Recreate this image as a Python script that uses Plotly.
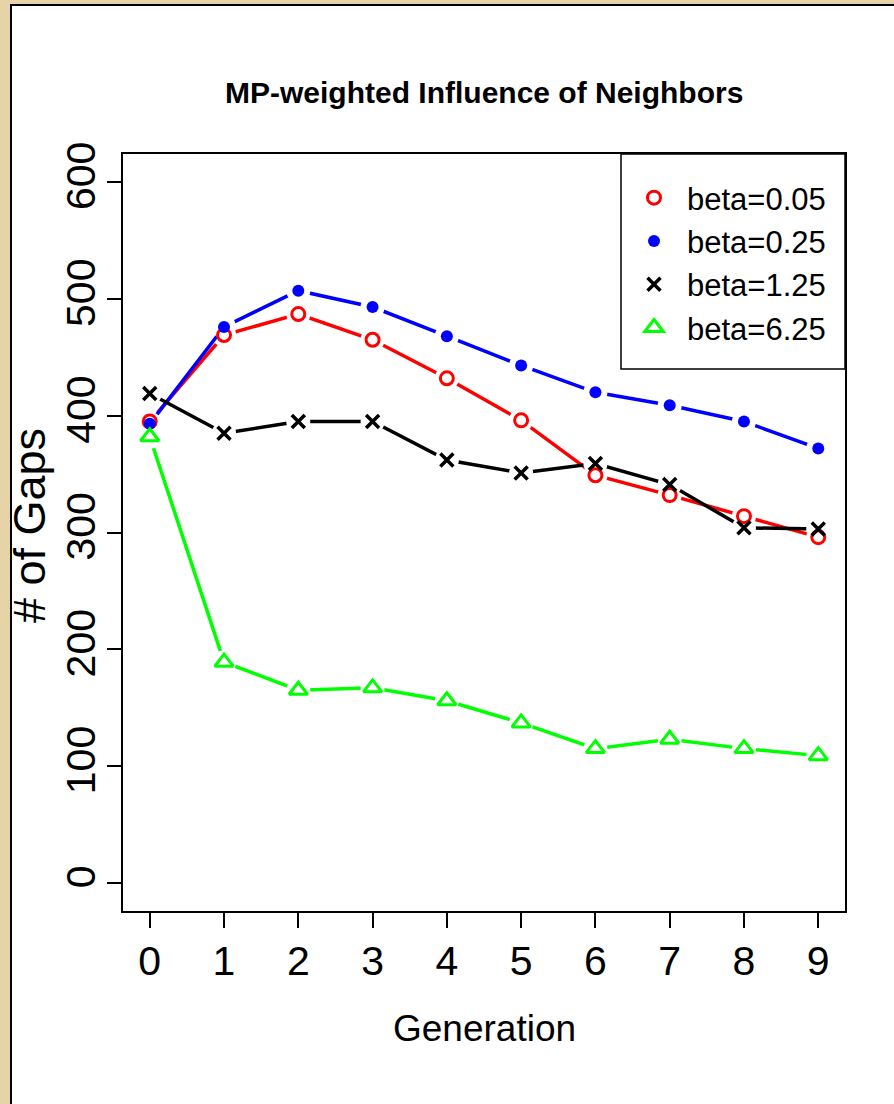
import plotly.graph_objects as go

generation = [0, 1, 2, 3, 4, 5, 6, 7, 8, 9]
beta_005 = [395, 469, 487, 465, 432, 396, 349, 332, 314, 296]
beta_025 = [393, 476, 507, 493, 468, 443, 420, 409, 395, 372]
beta_125 = [419, 385, 395, 395, 362, 351, 359, 341, 304, 303]
beta_625 = [382, 189, 165, 167, 156, 137, 115, 123, 115, 109]
series_names = ["beta=0.05", "beta=0.25", "beta=1.25", "beta=6.25"]
y_ticks = [0, 100, 200, 300, 400, 500, 600]

FONT = "Liberation Sans, Arial, sans-serif"

series = [
    (series_names[0], beta_005, "#FF0000", dict(symbol="circle-open", size=13, color="#FF0000", line=dict(width=3, color="#FF0000"))),
    (series_names[1], beta_025, "#0000FF", dict(symbol="circle", size=12, color="#0000FF", line=dict(width=0))),
    (series_names[2], beta_125, "#000000", dict(symbol="x-thin-open", size=13, color="#000000", line=dict(width=3.5, color="#000000"))),
    (series_names[3], beta_625, "#00FF00", dict(symbol="triangle-up-open", size=16, color="#00FF00", line=dict(width=3, color="#00FF00"))),
]

fig = go.Figure()
# lines with gaps around points (R type="b"): white markers hide line ends
for name, vals, col, mk in series:
    fig.add_trace(go.Scatter(x=generation, y=vals, mode="lines+markers",
                             line=dict(color=col, width=3.5),
                             marker=dict(symbol="circle", size=24, color="white", line=dict(width=0)),
                             showlegend=False, hoverinfo="skip"))
for name, vals, col, mk in series:
    fig.add_trace(go.Scatter(x=generation, y=vals, mode="markers", name=name, marker=mk))

# plot area px: x 123-845, y 154-911
L, R, T, B = 123, 845, 154, 911
W, H = 894, 1104
pw, ph = R - L, B - T

def px_x(x):
    return (x - L) / pw

def px_y(y):
    return (B - y) / ph

fig.update_layout(
    width=W, height=H,
    margin=dict(l=L, r=W - R, t=T, b=H - B, pad=0),
    paper_bgcolor="#E6D4A8",
    plot_bgcolor="white",
    font=dict(family=FONT, color="black"),
    showlegend=True,
    legend=dict(x=px_x(621), y=px_y(171), xanchor="left", yanchor="top",
                borderwidth=0, bgcolor="rgba(0,0,0,0)",
                font=dict(size=31, family=FONT), itemwidth=56,
                tracegroupgap=0),
    xaxis=dict(range=[-0.36, 9.36], tickmode="array", tickvals=generation,
               ticktext=[str(g) for g in generation],
               showline=True, mirror=True, linecolor="black", linewidth=1.5,
               ticks="outside", ticklen=15, tickwidth=1.5, tickcolor="black",
               showgrid=False, zeroline=False,
               tickfont=dict(size=41, family=FONT), ticklabelstandoff=-2),
    yaxis=dict(range=[-24, 624], tickmode="array", tickvals=y_ticks,
               ticktext=[str(t) for t in y_ticks],
               showline=True, mirror=True, linecolor="black", linewidth=1.5,
               ticks="outside", ticklen=14, tickwidth=1.5, tickcolor="black",
               showgrid=False, zeroline=False, tickangle=-90,
               tickfont=dict(size=41, family=FONT), ticklabelstandoff=-4),
    shapes=[
        dict(type="rect", xref="paper", yref="paper",
             x0=px_x(11), x1=px_x(905), y0=px_y(1115), y1=px_y(5),
             fillcolor="white", line=dict(color="black", width=2), layer="below"),
        dict(type="rect", xref="paper", yref="paper",
             x0=px_x(621), x1=1, y0=px_y(369), y1=1,
             fillcolor="white", line=dict(color="black", width=1.5), layer="above"),
    ],
    annotations=[
        dict(text="<b>MP-weighted Influence of Neighbors</b>", xref="paper", yref="paper",
             x=0.5, y=px_y(92), xanchor="center", yanchor="middle", showarrow=False,
             font=dict(size=30, family=FONT)),
        dict(text="Generation", xref="paper", yref="paper",
             x=0.5, y=px_y(1028), xanchor="center", yanchor="middle", showarrow=False,
             font=dict(size=37, family=FONT)),
        dict(text="# of Gaps", xref="paper", yref="paper", textangle=-90,
             x=px_x(29), y=px_y(526), xanchor="center", yanchor="middle", showarrow=False,
             font=dict(size=45, family=FONT)),
    ],
)

fig.write_html("out.html")
